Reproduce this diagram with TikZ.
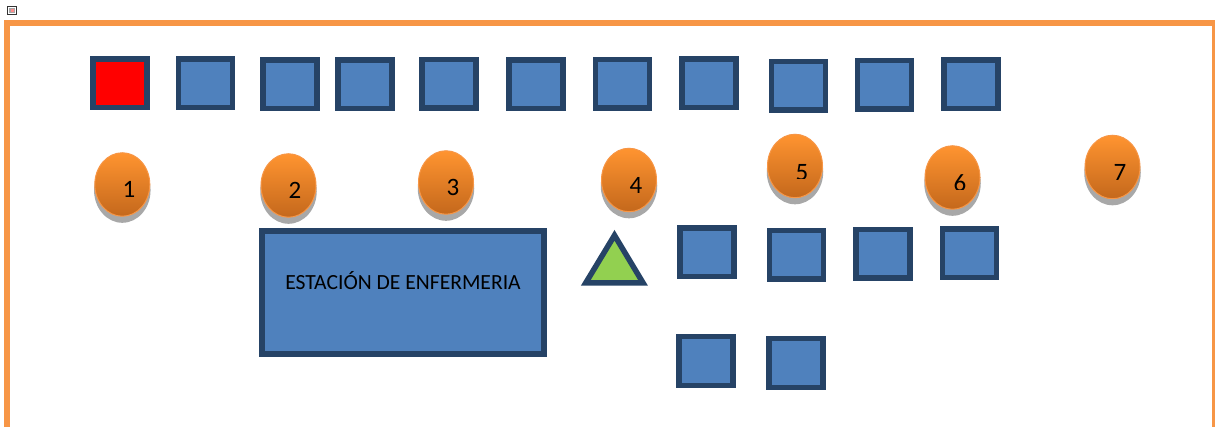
\documentclass[tikz,border=0pt]{standalone}
\usepackage{fontspec}
\setmainfont{Carlito}
\usetikzlibrary{shapes.geometric}
\definecolor{navy}{HTML}{264366}
\definecolor{bluefill}{HTML}{4F81BD}
\definecolor{framec}{HTML}{F79646}
\definecolor{orangetop}{HTML}{FF9430}
\definecolor{orangebot}{HTML}{C4681C}
\definecolor{shade}{HTML}{A8A8A8}
\definecolor{greenfill}{HTML}{92D050}
\tikzset{
  roombox/.style={draw=navy,line width=5.5pt,fill=bluefill,inner sep=0pt,minimum width=54pt,minimum height=48.5pt},
  redbox/.style={roombox,fill=red},
  stationbox/.style={roombox,line width=6pt,minimum width=282pt,minimum height=123pt},
  bubble/.style={ellipse,draw=framec,line width=1pt,top color=orangetop,bottom color=orangebot,minimum width=55pt,minimum height=63.5pt,inner sep=0pt},
  bubbleshade/.style={ellipse,fill=shade,minimum width=56.5pt,minimum height=65pt,inner sep=0pt},
  digit/.style={font=\fontsize{25pt}{25pt}\selectfont,text=black,inner sep=0pt},
}
% name, x0, y0, x1, y1 of the outer edge in reference pixels
\newcommand{\roomat}[6][roombox]{\node[#1] (#2) at ({(#3+#5)/2},{(#4+#6)/2}) {};}
% name, centre x, centre y, digit x, digit y, digit, clip y
\newcommand{\bubbleat}[7]{%
  \node[bubbleshade] at (#2,#3+5.8) {};
  \node[bubble] (#1) at (#2,#3) {};
  \begin{scope}
    \clip (#4-14,#5-20) rectangle (#4+14,#7);
    \node[digit,anchor=base] (#1n) at (#4,#5) {#6};
  \end{scope}}
\begin{document}
\begin{tikzpicture}[x=1pt,y=-1pt]
\useasboundingbox (0,0) rectangle (1215,427);
\clip (0,0) rectangle (1215,427);
% frame
\draw[framec,line width=5.7pt,line join=miter] (7.2,428) -- (7.2,23) -- (1215.3,23) -- (1215.3,428);
% small icon
\node[draw=black!80,line width=0.8pt,fill=white,minimum width=9.6pt,minimum height=8.4pt,inner sep=0pt] (icon) at (12,10.3) {};
\node[fill=black!35,minimum width=5.5pt,minimum height=5pt,inner sep=0pt] (iconin) at (11.8,10.3) {};
\node[fill=red!45,minimum width=3.2pt,minimum height=3pt,inner sep=0pt] (icondot) at (12.6,11) {};
% top row
\roomat[redbox]{r0}{90}{56}{149.5}{110.5}
\roomat{r1}{175.5}{56.5}{235}{110.5}
\roomat{r2}{260}{57.5}{319.5}{111.5}
\roomat{r3}{335}{57.5}{394.5}{111.5}
\roomat{r4}{419}{57}{478.5}{111}
\roomat{r5}{506}{57.5}{565.5}{111.5}
\roomat{r6}{592.5}{57}{652}{111}
\roomat{r7}{679}{56.5}{738.5}{110.5}
\roomat{r8}{768.5}{59}{828}{113}
\roomat{r9}{855}{58}{914}{112}
\roomat{r10}{941}{57.5}{1000.5}{111.5}
% middle row
\roomat{m1}{677}{225.5}{737}{279.5}
\roomat{m2}{767}{228}{826}{282}
\roomat{m3}{853}{227}{912.5}{281}
\roomat{m4}{939.5}{226.5}{999}{280.5}
% bottom row
\roomat{b1}{676}{334}{736}{388}
\roomat{b2}{766}{336}{825.5}{390}
% station
\node[stationbox] (station) at (403.2,292.8) {};
\node[font=\fontsize{21.6pt}{24pt}\selectfont,text=black,inner sep=0pt,anchor=base] (stationtext) at (403,289.5) {ESTACIÓN DE ENFERMERIA};
% triangle
\coordinate (ta) at (614.5,235.3);
\coordinate (tb) at (585.8,282.8);
\coordinate (tc) at (643,282.8);
\draw[navy,fill=greenfill,line width=5.5pt,line join=miter] (ta) -- (tb) -- (tc) -- cycle;
% numbered bubbles
\bubbleat{n1}{122.3}{184.5}{129}{197.5}{1}{220}
\bubbleat{n2}{288.5}{185.5}{295}{198.5}{2}{197.5}
\bubbleat{n3}{446}{182.5}{453}{195.5}{3}{220}
\bubbleat{n4}{629}{180}{636}{193.5}{4}{220}
\bubbleat{n5}{795}{166}{802}{180.5}{5}{179}
\bubbleat{n6}{952.5}{177.5}{960}{191.5}{6}{190}
\bubbleat{n7}{1112.5}{167}{1120}{180.5}{7}{220}
\end{tikzpicture}
\end{document}
